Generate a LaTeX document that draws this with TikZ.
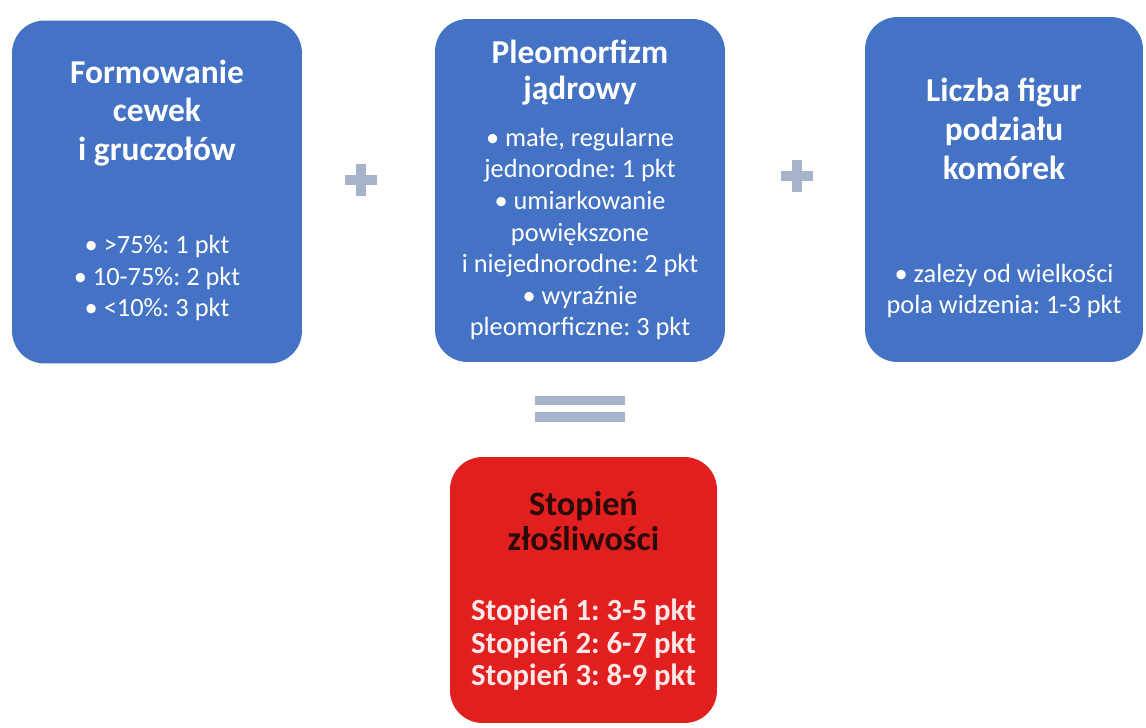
\documentclass[tikz,border=0pt]{standalone}
\usepackage{fontspec}
\setmainfont{Carlito}
\definecolor{boxblue}{HTML}{4472C4}
\definecolor{boxred}{HTML}{E21F1F}
\definecolor{signgray}{HTML}{A7B2CB}
\definecolor{darktext}{HTML}{2B0A0A}
\definecolor{pinktext}{HTML}{FCE8E8}
\frenchspacing
\begin{document}
\begin{tikzpicture}[x=0.02cm,y=-0.02cm,
    box/.style={rounded corners=0.65cm, fill=boxblue, inner sep=0pt},
    head/.style={text=white, align=center, font=\bfseries\fontsize{19}{22}\selectfont},
    body/.style={text=white, align=center, font=\fontsize{15}{18}\selectfont},
    sign/.style={fill=signgray}]
    \useasboundingbox (0,0) rectangle (1146,727);
    % boxes
    \node [box, minimum width=5.8cm, minimum height=6.86cm] (formowanie) at (157,192) {};
    \node [box, minimum width=5.8cm, minimum height=6.86cm] (pleomorfizm) at (580,190.5) {};
    \node [box, minimum width=5.56cm, minimum height=6.9cm] (liczba) at (1004,189.5) {};
    \node [box, fill=boxred, minimum width=5.34cm, minimum height=5.32cm] (stopien) at (583.5,590) {};
    % texts
    \node [head] (formowanie-head) at (157,113) {Formowanie\\cewek\\i gruczołów};
    \node [body] (formowanie-body) at (157,278) {• >75\%: 1 pkt\\• 10-75\%: 2 pkt\\• <10\%: 3 pkt};
    \node [head, font=\bfseries\fontsize{19}{20.5}\selectfont] (pleomorfizm-head) at (580,73) {Pleomorfizm\\jądrowy};
    \node [body] (pleomorfizm-body) at (580,234) {• małe, regularne\\jednorodne: 1 pkt\\• umiarkowanie\\powiększone\\i niejednorodne: 2 pkt\\• wyraźnie\\pleomorficzne: 3 pkt};
    \node [head] (liczba-head) at (1004,129) {Liczba figur\\podziału\\komórek};
    \node [body] (liczba-body) at (1004,291) {• zależy od wielkości\\pola widzenia: 1-3 pkt};
    \node [head, text=darktext, font=\bfseries\fontsize{19.5}{19.5}\selectfont] (stopien-head) at (583.5,521) {Stopień\\złośliwości};
    \node [head, text=pinktext, font=\bfseries\fontsize{17.5}{18.5}\selectfont] (stopien-body) at (583.5,645) {Stopień 1: 3-5 pkt\\Stopień 2: 6-7 pkt\\Stopień 3: 8-9 pkt};
    % plus and equals signs
    \fill [sign] (361,180) +(-16,-5) rectangle +(16,5);
    \fill [sign] (361,180) +(-5,-16) rectangle +(5,16);
    \fill [sign] (797,176) +(-16,-5) rectangle +(16,5);
    \fill [sign] (797,176) +(-5,-16) rectangle +(5,16);
    \fill [sign] (535,396) rectangle (625,405);
    \fill [sign] (535,412) rectangle (625,422);
\end{tikzpicture}
\end{document}
